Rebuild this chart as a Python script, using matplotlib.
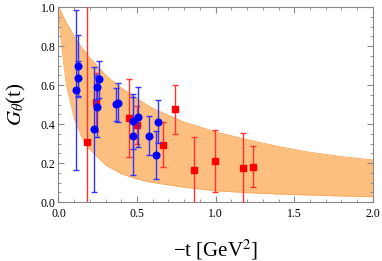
import matplotlib
matplotlib.use('Agg')
import matplotlib.pyplot as plt
from matplotlib.ticker import MultipleLocator

plt.rcParams['font.family'] = ['Liberation Serif', 'DejaVu Serif']
plt.rcParams['mathtext.fontset'] = 'stix'

# theory band
band_t = [0, 0.01, 0.02, 0.05, 0.1, 0.15, 0.2, 0.3, 0.4, 0.5, 0.6, 0.8, 1.0, 1.2, 1.4, 1.6, 1.8, 2.0]
band_hi = [1.0, 0.985, 0.97, 0.92, 0.85, 0.79, 0.74, 0.65, 0.585, 0.53, 0.48, 0.41, 0.36, 0.32, 0.285, 0.255, 0.233, 0.216]
band_lo = [1.0, 0.89, 0.80, 0.60, 0.43, 0.33, 0.27, 0.19, 0.145, 0.118, 0.10, 0.076, 0.058, 0.048, 0.041, 0.036, 0.031, 0.027]

# blue data
blue_t = [0.111, 0.127, 0.127, 0.223, 0.248, 0.248, 0.259, 0.363, 0.382, 0.473, 0.473, 0.507, 0.579, 0.619, 0.634]
blue_g = [0.575, 0.699, 0.635, 0.373, 0.589, 0.488, 0.630, 0.502, 0.510, 0.413, 0.341, 0.435, 0.339, 0.241, 0.411]
blue_e = [0.41, 0.16, 0.09, 0.32, 0.06, 0.155, 0.095, 0.085, 0.10, 0.14, 0.20, 0.155, 0.10, 0.125, 0.11]

# red data
red_t = [0.180, 0.237, 0.452, 0.499, 0.666, 0.740, 0.861, 0.999, 1.171, 1.237]
red_g = [0.310, 0.512, 0.433, 0.395, 0.293, 0.476, 0.164, 0.211, 0.175, 0.181]
red_e = [0.90, 0.15, 0.20, 0.10, 0.115, 0.125, 0.17, 0.16, 0.18, 0.105]

fig = plt.figure(figsize=(3.82, 2.61), dpi=100)
ax = fig.add_axes([0.153, 0.226, 0.823, 0.747])

ax.fill_between(band_t, band_lo, band_hi, color='#fdbf80', lw=0, zorder=1)
ax.plot(band_t, band_hi, color='#f7a85a', lw=0.6, zorder=1)
ax.plot(band_t, band_lo, color='#f7a85a', lw=0.6, zorder=1)

ax.errorbar(red_t, red_g, yerr=red_e, fmt='s', color='#ff0000', ms=4.2,
            ecolor='#ff3333', elinewidth=1.0, capsize=2.5, capthick=1.0, zorder=3)
ax.errorbar(blue_t, blue_g, yerr=blue_e, fmt='o', color='#0000ff', ms=4.8,
            ecolor='#3333ff', elinewidth=1.0, capsize=2.5, capthick=1.0, zorder=4)

ax.set_xlim(0, 2.0)
ax.set_ylim(0, 1.0)
ax.xaxis.set_major_locator(MultipleLocator(0.5))
ax.xaxis.set_minor_locator(MultipleLocator(0.1))
ax.yaxis.set_major_locator(MultipleLocator(0.2))
ax.yaxis.set_minor_locator(MultipleLocator(0.05))
ax.tick_params(which='both', direction='in', top=True, right=True, color='#888888',
               labelsize=8.5)
ax.tick_params(axis='x', pad=4)
ax.tick_params(axis='y', pad=2)
ax.tick_params(which='major', length=4)
ax.tick_params(which='minor', length=2)
for s in ax.spines.values():
    s.set_color('#888888')
    s.set_linewidth(0.8)

ax.set_xlabel('\u2212t [GeV$^2$]', fontsize=15, labelpad=13)
ax.set_ylabel(r'$G_\theta$(t)', fontsize=15, labelpad=9)

fig.savefig('out.png', dpi=100)
